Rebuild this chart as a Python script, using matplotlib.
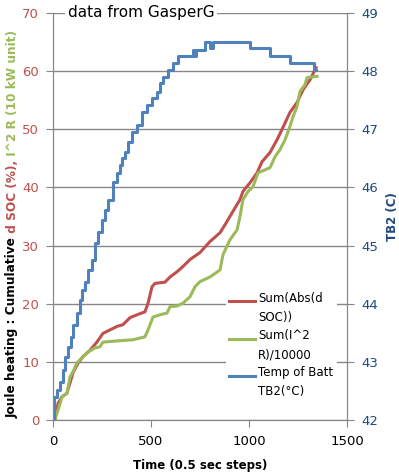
import matplotlib
matplotlib.use("Agg")
import matplotlib.pyplot as plt
from matplotlib.legend_handler import HandlerLine2D

# time axis in 0.5 s steps
soc_t = [10, 26, 46, 71, 87, 102, 128, 153, 189, 224, 255, 291, 327, 357, 393, 429, 469, 485,
         505, 520, 571, 597, 633, 663, 699, 750, 801, 852, 878, 913, 954, 969, 1005, 1041,
         1066, 1107, 1143, 1173, 1209, 1245, 1276, 1311, 1342]
soc_sum = [0, 2.9, 4.0, 4.6, 6.4, 8.1, 9.8, 10.9, 12.0, 13.4, 14.9, 15.5, 16.1, 16.4, 17.6, 18.1,
           18.6, 20.1, 22.9, 23.5, 23.7, 24.6, 25.5, 26.4, 27.6, 28.8, 30.7, 32.2, 33.6, 35.6,
           37.9, 39.3, 40.8, 42.5, 44.4, 46.0, 48.2, 50.3, 52.9, 54.6, 56.8, 58.5, 60.6]

i2r_t = [10, 26, 46, 71, 87, 102, 122, 148, 179, 214, 240, 255, 327, 408, 444, 469, 485, 510,
         546, 582, 597, 633, 663, 699, 724, 750, 801, 852, 867, 903, 939, 954, 969, 995, 1020,
         1046, 1107, 1133, 1158, 1184, 1209, 1225, 1245, 1260, 1286, 1296, 1347]
i2r_sum = [0.3, 1.7, 4.0, 4.6, 7.4, 8.3, 9.8, 10.7, 11.7, 12.4, 12.6, 13.4, 13.6, 13.8, 14.1,
           14.3, 15.5, 17.7, 18.1, 18.4, 19.5, 19.6, 20.1, 21.2, 22.9, 23.8, 24.6, 25.8, 28.4,
           31.0, 32.7, 35.0, 37.9, 39.3, 40.1, 42.5, 43.4, 45.3, 46.5, 48.2, 50.5, 52.2, 53.9,
           56.5, 57.7, 58.9, 59.1]

temp_t = [0, 3, 22, 36, 49, 61, 78, 90, 104, 121, 138, 146, 163, 180, 197, 214, 231, 248, 265,
          282, 308, 325, 342, 350, 367, 384, 401, 427, 453, 478, 504, 529, 546, 563, 588, 614,
          639, 716, 722, 730, 776, 801, 816, 1005, 1107, 1209, 1330, 1340]
temp_tb2 = [42.0, 42.40, 42.52, 42.65, 42.86, 43.08, 43.25, 43.42, 43.63, 43.84, 44.06, 44.24,
            44.37, 44.58, 44.75, 45.04, 45.23, 45.44, 45.61, 45.78, 46.10, 46.25, 46.39, 46.51,
            46.61, 46.78, 46.95, 47.07, 47.30, 47.42, 47.54, 47.64, 47.80, 47.90, 48.02, 48.14,
            48.26, 48.37, 48.26, 48.37, 48.50, 48.40, 48.50, 48.40, 48.26, 48.14, 48.02, 48.02]

RED = "#C0504D"
GREEN = "#9BBB59"
BLUE = "#4F81BD"
DARKBLUE = "#1F497D"
GRAY = "#868686"


class TopLineHandler(HandlerLine2D):
    # put the legend line level with the first text line, like Excel does
    def create_artists(self, legend, orig_handle, xdescent, ydescent, width, height, fontsize, trans):
        arts = super().create_artists(legend, orig_handle, xdescent, ydescent, width, height,
                                      fontsize, trans)
        for a in arts:
            a.set_ydata([y + 0.62 * fontsize for y in a.get_ydata()])
        return arts


fig = plt.figure(figsize=(3.99, 4.74), dpi=100)
ax = fig.add_axes([53 / 399, 1 - 420 / 474, 294 / 399, 407 / 474])
ax2 = ax.twinx()

l1, = ax.plot(soc_t, soc_sum, color=RED, lw=2.2)
l2, = ax.plot(i2r_t, i2r_sum, color=GREEN, lw=2.2)
l3, = ax2.plot(temp_t, temp_tb2, color=BLUE, lw=2.2, drawstyle="steps-post")

ax.set_xlim(0, 1500)
ax.set_ylim(0, 70)
ax2.set_ylim(42, 49)
ax.set_xticks([0, 500, 1000, 1500])
ax.set_yticks(range(0, 71, 10))
ax2.set_yticks(range(42, 50))

ax.grid(axis="y", color=GRAY, lw=1)
ax.set_axisbelow(True)
for a in (ax, ax2):
    for s in a.spines.values():
        s.set_color(GRAY)
    a.spines["top"].set_visible(False)
ax.tick_params(axis="y", colors=GRAY, labelcolor=RED, labelsize=9.5, length=5, pad=5)
ax.tick_params(axis="x", colors=GRAY, labelcolor="black", labelsize=9.5, length=5, pad=6)
ax2.tick_params(axis="y", colors=GRAY, labelcolor=DARKBLUE, labelsize=9.5, length=5, pad=5)

ax.set_xlabel("Time (0.5 sec steps)", fontweight="bold", fontsize=8.5, labelpad=8)
ax2.set_ylabel("TB2 (C)", fontweight="bold", fontsize=8.5, color=DARKBLUE, labelpad=6)

ax2.text(0.05, 1.0, "data from GasperG", transform=ax2.transAxes, fontsize=11,
         va="center", ha="left", bbox=dict(facecolor="white", edgecolor="none", pad=2))

leg = ax2.legend([l1, l2, l3], ["Sum(Abs(d\nSOC))", "Sum(I^2\nR)/10000", "Temp of Batt\nTB2(°C)"],
                 loc="lower right", bbox_to_anchor=(0.985, 0.03), frameon=True, fancybox=False,
                 edgecolor="none", framealpha=1, fontsize=8.5, handlelength=2.2,
                 handletextpad=0.25, labelspacing=0.45, borderpad=0.3,
                 handler_map={matplotlib.lines.Line2D: TopLineHandler()})
for t in leg.get_texts():
    t.set_linespacing(1.6)

# multi-coloured left axis title, built piece by piece
renderer = fig.canvas.get_renderer()
pieces = [("Joule heating : Cumulative", "black"), (" d SOC (%),", RED),
          (" I^2 R (10 kW unit)", GREEN)]
y = 1 - 418 / 474
for text, col in pieces:
    t = fig.text(16 / 399, y, text, color=col, rotation=90, rotation_mode="anchor",
                 ha="left", va="baseline", fontweight="bold", fontsize=8.7)
    y += t.get_window_extent(renderer).height / fig.bbox.height

fig.savefig("out.png", dpi=100)
